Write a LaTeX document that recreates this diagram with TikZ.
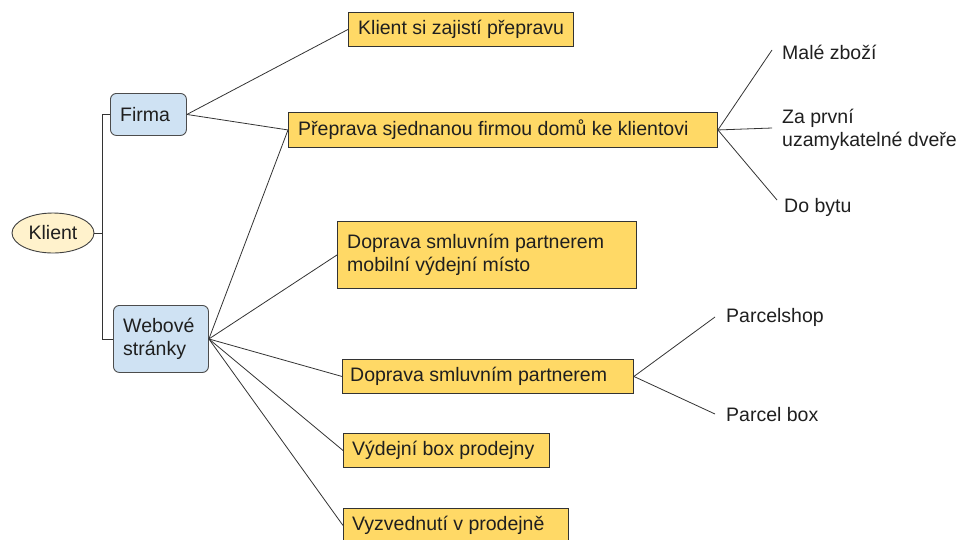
\documentclass[tikz,border=0pt]{standalone}
\usepackage{fontspec}
\setmainfont{Liberation Sans}
\usetikzlibrary{shapes.geometric}
\definecolor{boxyellow}{HTML}{FFD966}
\definecolor{boxblue}{HTML}{CFE2F3}
\definecolor{ovalfill}{HTML}{FFF2CC}
\begin{document}
\begin{tikzpicture}[x=1pt,y=-1pt,
  every node/.style={font=\fontsize{19.5}{23.5}\selectfont, text=black!88},
  ybox/.style={draw=black!80, line width=0.9pt, fill=boxyellow, minimum height=34, inner sep=0pt, anchor=north west},
  bbox/.style={draw=black!70, line width=0.9pt, fill=boxblue, rounded corners=6pt, inner sep=0pt, anchor=north west},
  lbl/.style={anchor=west, inner sep=0pt, align=left},
  conn/.style={draw=black!80, line width=0.8pt}]
\useasboundingbox (0,0) rectangle (957,539);

% root and first level
\node[ellipse, draw=black!75, line width=0.9pt, fill=ovalfill, minimum width=82, minimum height=40, inner sep=0pt] (kl) at (53,233) {Klient};
\node[bbox, minimum width=76, minimum height=42] (fi) at (110,93) {};
\node[lbl] at ([xshift=10pt]fi.west) {Firma};
\node[bbox, minimum width=95, minimum height=67] (we) at (113,305) {};
\node[lbl] at ([xshift=10pt]we.west) {Webové\\stránky};

% transport options
\node[ybox, minimum width=225] (k1) at (348,12) {};
\node[lbl] at ([xshift=10pt]k1.west) {Klient si zajistí přepravu};
\node[ybox, minimum width=429, minimum height=35] (pr) at (288,112) {};
\node[lbl] at ([xshift=10pt]pr.west) {Přeprava sjednanou firmou domů ke klientovi};
\node[ybox, minimum width=299, minimum height=67] (dm) at (337,221) {};
\node[lbl] at ([xshift=10pt]dm.west) {Doprava smluvním partnerem\\mobilní výdejní místo};
\node[ybox, minimum width=291] (dp) at (342,359) {};
\node[lbl] at ([xshift=8pt]dp.west) {Doprava smluvním partnerem};
\node[ybox, minimum width=206] (vb) at (343,433) {};
\node[lbl] at ([xshift=9pt]vb.west) {Výdejní box prodejny};
\node[ybox, minimum width=225] (vz) at (343,508) {};
\node[lbl] at ([xshift=9pt]vz.west) {Vyzvednutí v prodejně};

% leaves
\node[lbl] (lm) at (782,52) {Malé zboží};
\node[lbl] (lz) at (782,130) {Za první\\uzamykatelné dveře};
\node[lbl] (ld) at (784,207) {Do bytu};
\node[lbl] (lp) at (726,317) {Parcelshop};
\node[lbl] (lb) at (726,415) {Parcel box};
\coordinate (em) at (772,50);
\coordinate (ez) at (772,128);
\coordinate (ed) at (777,200);
\coordinate (ep) at (715,317);
\coordinate (eb) at (715,414);

% bracket from the root
\draw[conn] (kl.east) -- ++(8,0) coordinate (br);
\draw[conn] (fi.west) -| (br) |- (we.west);

% connectors
\draw[conn] (fi.east) -- (k1.west);
\draw[conn] (fi.east) -- (pr.west);
\draw[conn] (we.east) -- (pr.west);
\draw[conn] (we.east) -- (dm.west);
\draw[conn] (we.east) -- (dp.west);
\draw[conn] (we.east) -- (vb.west);
\draw[conn] (we.east) -- (vz.west);
\draw[conn] (pr.east) -- (em);
\draw[conn] (pr.east) -- (ez);
\draw[conn] (pr.east) -- (ed);
\draw[conn] (dp.east) -- (ep);
\draw[conn] (dp.east) -- (eb);
\end{tikzpicture}
\end{document}
